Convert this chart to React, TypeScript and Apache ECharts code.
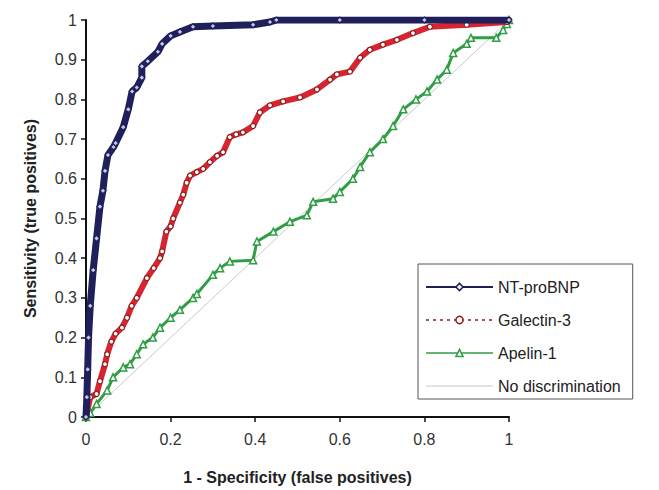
import React, { useEffect, useRef } from "react";
import * as echarts from "echarts";

const xTicks = [0, 0.2, 0.4, 0.6, 0.8, 1];
const yTicks = [0, 0.1, 0.2, 0.3, 0.4, 0.5, 0.6, 0.7, 0.8, 0.9, 1];

const ntProBNP: number[][] = [
  [0, 0], [0.002, 0.05], [0.004, 0.12], [0.006, 0.2], [0.01, 0.28], [0.017, 0.37],
  [0.025, 0.45], [0.033, 0.53], [0.04, 0.57], [0.045, 0.62], [0.052, 0.66], [0.065, 0.68],
  [0.07, 0.69], [0.088, 0.73], [0.1, 0.775], [0.109, 0.82], [0.12, 0.83], [0.132, 0.855],
  [0.132, 0.883], [0.146, 0.896], [0.17, 0.92], [0.18, 0.94], [0.2, 0.96], [0.222, 0.97],
  [0.253, 0.983], [0.3, 0.985], [0.395, 0.988], [0.435, 0.995], [0.45, 1], [0.6, 1],
  [0.8, 1], [1, 1],
];

const galectin3: number[][] = [
  [0, 0], [0.002, 0.01], [0.01, 0.05], [0.025, 0.058], [0.033, 0.09], [0.045, 0.133],
  [0.05, 0.158], [0.06, 0.19], [0.07, 0.21], [0.085, 0.225], [0.097, 0.25], [0.108, 0.28],
  [0.12, 0.3], [0.144, 0.35], [0.16, 0.375], [0.175, 0.4], [0.18, 0.417], [0.19, 0.467],
  [0.2, 0.48], [0.206, 0.5], [0.222, 0.54], [0.23, 0.56], [0.238, 0.59], [0.246, 0.608],
  [0.262, 0.617], [0.277, 0.625], [0.293, 0.642], [0.31, 0.658], [0.324, 0.667], [0.34, 0.705],
  [0.355, 0.712], [0.371, 0.717], [0.395, 0.733], [0.411, 0.767], [0.435, 0.785], [0.466, 0.795],
  [0.506, 0.805], [0.546, 0.825], [0.577, 0.85], [0.593, 0.863], [0.624, 0.87], [0.648, 0.905],
  [0.671, 0.925], [0.702, 0.938], [0.735, 0.95], [0.773, 0.967], [0.813, 0.983], [0.9, 0.988],
  [0.995, 0.995], [1, 1],
];

const apelin1: number[][] = [
  [0, 0], [0.01, 0.01], [0.025, 0.033], [0.05, 0.067], [0.064, 0.1], [0.088, 0.125],
  [0.104, 0.133], [0.12, 0.158], [0.135, 0.183], [0.158, 0.2], [0.175, 0.225], [0.2, 0.25],
  [0.222, 0.27], [0.253, 0.3], [0.262, 0.31], [0.3, 0.358], [0.317, 0.375], [0.34, 0.392],
  [0.395, 0.395], [0.404, 0.442], [0.443, 0.467], [0.482, 0.492], [0.522, 0.508], [0.537, 0.542],
  [0.584, 0.55], [0.6, 0.567], [0.631, 0.6], [0.648, 0.63], [0.671, 0.667], [0.702, 0.7],
  [0.726, 0.733], [0.75, 0.775], [0.78, 0.8], [0.806, 0.82], [0.83, 0.85], [0.853, 0.875],
  [0.868, 0.917], [0.9, 0.94], [0.91, 0.955], [0.97, 0.955], [0.986, 0.975], [0.995, 0.99],
  [1, 1],
];

const noDiscrimination: number[][] = [[0, 0], [1, 1]];

const NAVY = "#1f1f5c";
const RED = "#d62530";
const DARKRED = "#8a1f1f";
const GREEN = "#2f9e45";
const GRAY = "#c9c9c9";

export default function App() {
  const ref = useRef<HTMLDivElement>(null);
  useEffect(() => {
    document.body.style.margin = "0";
    if (!ref.current) return;
    const chart = echarts.init(ref.current, undefined, { renderer: "svg" });
    const font = "Liberation Sans, Arial, sans-serif";
    chart.setOption({
      animation: false,
      backgroundColor: "#ffffff",
      textStyle: { fontFamily: font },
      grid: { left: 86, right: 150, top: 20, bottom: 70 },
      xAxis: {
        type: "value",
        min: xTicks[0],
        max: xTicks[xTicks.length - 1],
        interval: 0.2,
        name: "1 - Specificity (false positives)",
        nameLocation: "middle",
        nameGap: 52,
        nameTextStyle: { fontSize: 16, fontWeight: "bold", color: "#222", fontFamily: font },
        axisLine: { lineStyle: { color: "#111", width: 2 } },
        axisTick: { show: true, length: 5, lineStyle: { color: "#111", width: 1.5 } },
        axisLabel: { fontSize: 16, color: "#333", margin: 14, fontFamily: font },
        splitLine: { show: false },
      },
      yAxis: {
        type: "value",
        min: yTicks[0],
        max: yTicks[yTicks.length - 1],
        interval: 0.1,
        name: "Sensitivity (true positives)",
        nameLocation: "middle",
        nameGap: 48,
        nameTextStyle: { fontSize: 16, fontWeight: "bold", color: "#222", fontFamily: font },
        axisLine: { show: true, lineStyle: { color: "#111", width: 2 } },
        axisTick: { show: true, length: 5, lineStyle: { color: "#111", width: 1.5 } },
        axisLabel: { fontSize: 16, color: "#333", margin: 9, fontFamily: font },
        splitLine: { show: false },
      },
      legend: {
        orient: "vertical",
        left: 418,
        top: 264,
        width: 235,
        padding: [14, 12, 4, 7],
        itemGap: 15,
        itemWidth: 67,
        itemHeight: 9,
        borderColor: "#555",
        borderWidth: 1,
        backgroundColor: "#fff",
        textStyle: { fontSize: 16, color: "#222", fontFamily: font, lineHeight: 18 },
        data: [
          {
            name: "NT-proBNP",
            lineStyle: { width: 2, color: NAVY },
            itemStyle: { color: "#fff", borderColor: NAVY, borderWidth: 1.5 },
          },
          {
            name: "Galectin-3",
            lineStyle: { width: 1.5, color: DARKRED, type: [3, 4] },
            itemStyle: { color: "#fff", borderColor: DARKRED, borderWidth: 1.5 },
          },
          {
            name: "Apelin-1",
            lineStyle: { width: 1.5, color: GREEN },
            itemStyle: { color: "#fff", borderColor: GREEN, borderWidth: 1.5 },
          },
          {
            name: "No discrimination",
            lineStyle: { width: 1, color: GRAY },
            itemStyle: { color: "transparent", borderColor: "transparent", borderWidth: 0, opacity: 0 },
          },
        ],
      },
      series: [
        {
          name: "No discrimination",
          type: "line",
          data: noDiscrimination,
          showSymbol: false,
          symbol: "none",
          lineStyle: { color: GRAY, width: 1 },
          itemStyle: { color: GRAY },
          z: 1,
        },
        {
          name: "Apelin-1",
          type: "line",
          data: apelin1,
          symbol: "triangle",
          symbolSize: 7,
          lineStyle: { color: GREEN, width: 3 },
          itemStyle: { color: "#fff", borderColor: GREEN, borderWidth: 1.5 },
          z: 2,
        },
        {
          name: "Galectin-3",
          type: "line",
          data: galectin3,
          symbol: "circle",
          symbolSize: 5,
          lineStyle: { color: RED, width: 6 },
          itemStyle: { color: "#fff", borderColor: DARKRED, borderWidth: 1.2 },
          z: 3,
        },
        {
          name: "NT-proBNP",
          type: "line",
          data: ntProBNP,
          symbol: "diamond",
          symbolSize: 6,
          lineStyle: { color: NAVY, width: 7 },
          itemStyle: { color: "#c8c8e0", borderColor: NAVY, borderWidth: 1.2 },
          z: 4,
        },
      ],
    });
    return () => chart.dispose();
  }, []);
  return <div ref={ref} style={{ width: 659, height: 490 }} />;
}
